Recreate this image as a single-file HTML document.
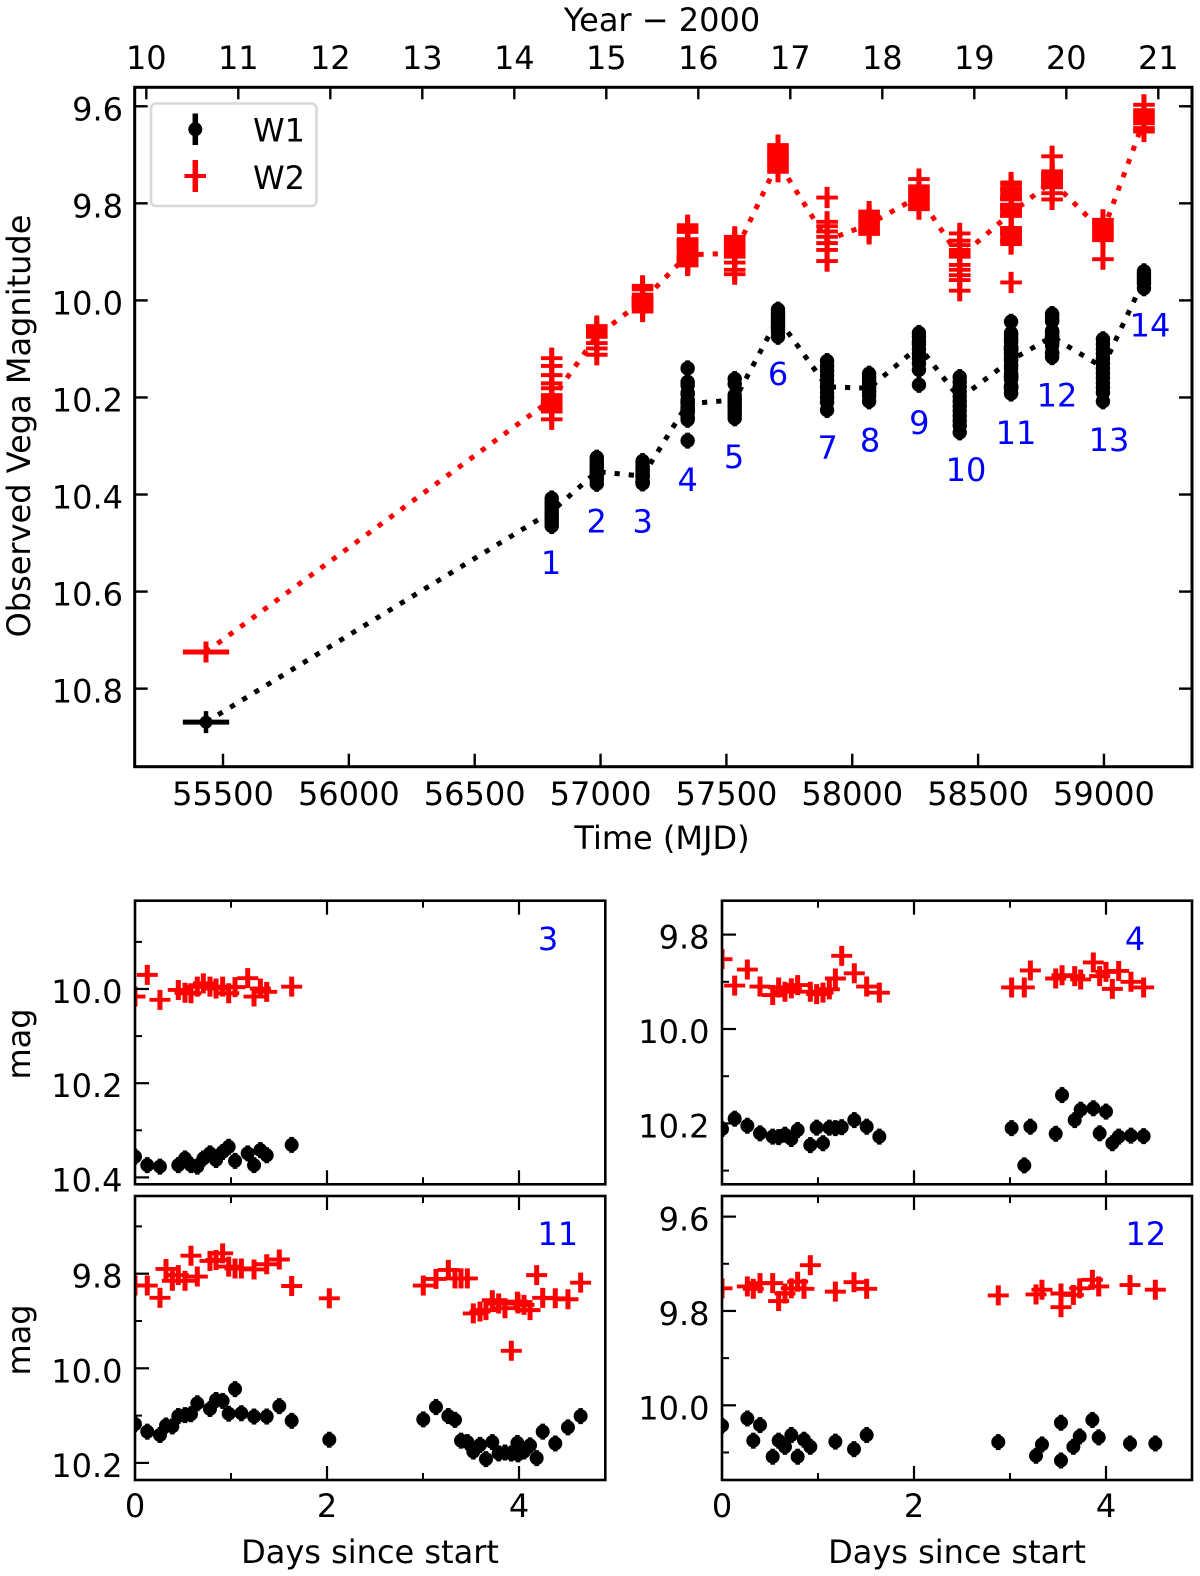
<!DOCTYPE html>
<html lang="en">
<head>
<meta charset="utf-8">
<title>WISE W1 and W2 light curve</title>
<style>
html,body{margin:0;padding:0;background:#fff;}
svg{display:block;}
text{font-family:"DejaVu Sans","Liberation Sans",sans-serif;font-size:32px;fill:#000;}
.blue{fill:#0000ff;}
.lab{font-size:32px;}
</style>
</head>
<body>
<svg id="chart" xmlns="http://www.w3.org/2000/svg" width="1200" height="1576" viewBox="0 0 1200 1576">
  <rect x="0" y="0" width="1200" height="1576" fill="#fff"/>
  <defs>
    <clipPath id="clip-p3"><rect x="135" y="900.7" width="470.3" height="283.6"/></clipPath>
    <clipPath id="clip-p4"><rect x="722" y="900.7" width="470" height="283.6"/></clipPath>
    <clipPath id="clip-p11"><rect x="135" y="1196" width="470.3" height="284"/></clipPath>
    <clipPath id="clip-p12"><rect x="722" y="1196" width="470" height="284"/></clipPath>
  </defs>
  <g id="main-plot"></g>
  <g id="panel-3"></g>
  <g id="panel-4"></g>
  <g id="panel-11"></g>
  <g id="panel-12"></g>

  <text class="lab" x="662" y="31" text-anchor="middle">Year − 2000</text>
  <text class="lab" x="662" y="849" text-anchor="middle">Time (MJD)</text>
  <text class="lab" transform="translate(30,426) rotate(-90)" text-anchor="middle">Observed Vega Magnitude</text>
  <text class="lab" transform="translate(30,1044) rotate(-90)" text-anchor="middle">mag</text>
  <text class="lab" transform="translate(30,1340) rotate(-90)" text-anchor="middle">mag</text>
  <text class="lab" x="370" y="1563" text-anchor="middle">Days since start</text>
  <text class="lab" x="957" y="1563" text-anchor="middle">Days since start</text>

  <g transform="translate(1,1)">
    <text class="blue" x="550" y="573" text-anchor="middle">1</text>
    <text class="blue" x="595.7" y="531.7" text-anchor="middle">2</text>
    <text class="blue" x="641.7" y="531.7" text-anchor="middle">3</text>
    <text class="blue" x="686.7" y="490" text-anchor="middle">4</text>
    <text class="blue" x="733" y="467" text-anchor="middle">5</text>
    <text class="blue" x="777" y="384" text-anchor="middle">6</text>
    <text class="blue" x="826.7" y="458" text-anchor="middle">7</text>
    <text class="blue" x="869" y="450.7" text-anchor="middle">8</text>
    <text class="blue" x="918.3" y="433" text-anchor="middle">9</text>
    <text class="blue" x="965" y="480" text-anchor="middle">10</text>
    <text class="blue" x="1015" y="443" text-anchor="middle">11</text>
    <text class="blue" x="1056" y="405.7" text-anchor="middle">12</text>
    <text class="blue" x="1108" y="450" text-anchor="middle">13</text>
    <text class="blue" x="1149" y="335.7" text-anchor="middle">14</text>
    <text class="blue" x="547" y="949" text-anchor="middle">3</text>
    <text class="blue" x="1134" y="949" text-anchor="middle">4</text>
    <text class="blue" x="556.7" y="1244" text-anchor="middle">11</text>
    <text class="blue" x="1144.7" y="1244" text-anchor="middle">12</text>
  </g>

  <g id="legend">
    <rect x="151" y="103.5" width="165.5" height="102.5" rx="5" ry="5" fill="#fff" stroke="#d9d9d9" stroke-width="2.6"/>
    <text x="253" y="141.7">W1</text>
    <text x="253" y="189">W2</text>
  </g>
</svg>

<script>
// ---------- Main plot data ----------
var earlyMjd = 55432.5;
var earlyW1 = 10.869;
var earlyW2 = 10.7245;
var earlyHalfWidthDays = 92;
var epochMjd = [56806, 56985, 57167, 57346, 57533, 57705, 57900, 58067, 58265, 58427, 58631, 58794, 58996, 59159];
var epochMeanW1 = [10.435, 10.353, 10.362, 10.213, 10.205, 10.037, 10.178, 10.181, 10.095, 10.202, 10.123, 10.075, 10.138, 9.957];
var epochMeanW2 = [10.204, 10.073, 10.001, 9.906, 9.903, 9.715, 9.876, 9.843, 9.786, 9.911, 9.82, 9.755, 9.858, 9.629];
var mainXTicks = [55500, 56000, 56500, 57000, 57500, 58000, 58500, 59000];
var mainYTicks = ['9.6', '9.8', '10.0', '10.2', '10.4', '10.6', '10.8'];
var yearTicks = [10, 11, 12, 13, 14, 15, 16, 17, 18, 19, 20, 21];

// ---------- Epoch panel data ----------
var p3Days = [0, .128, .26, .451, .521, .583, .649, .712, .781, .844, .913, .976, 1.042, 1.174, 1.24, 1.306, 1.372, 1.632];
var p3W1 = [10.356, 10.374, 10.377, 10.374, 10.36, 10.374, 10.377, 10.36, 10.349, 10.363, 10.346, 10.335, 10.365, 10.349, 10.374, 10.342, 10.353, 10.331];
var p3W2 = [10.016, 9.97, 10.023, 10.002, 10.008, 10.009, 9.995, 9.988, 9.995, 9.999, 9.995, 10.009, 9.996, 9.977, 10.016, 9.999, 10.006, 9.995];

var p4Days = [0, .132, .264, .396, .528, .59, .656, .722, .788, .92, .986, 1.052, 1.118, 1.181, 1.247, 1.378, 1.507, 1.639, 3.017, 3.149, 3.212, 3.476, 3.542, 3.674, 3.736, 3.868, 3.934, 4.0, 4.066, 4.132, 4.26, 4.392];
var p4W1 = [10.212, 10.19, 10.205, 10.221, 10.228, 10.229, 10.224, 10.233, 10.214, 10.246, 10.209, 10.242, 10.209, 10.21, 10.208, 10.193, 10.207, 10.228, 10.21, 10.289, 10.207, 10.222, 10.14, 10.193, 10.171, 10.168, 10.221, 10.175, 10.242, 10.228, 10.226, 10.227];
var p4W2 = [9.852, 9.908, 9.874, 9.91, 9.928, 9.912, 9.921, 9.914, 9.907, 9.921, 9.926, 9.923, 9.916, 9.893, 9.845, 9.882, 9.91, 9.923, 9.912, 9.912, 9.876, 9.893, 9.886, 9.888, 9.895, 9.859, 9.888, 9.879, 9.915, 9.877, 9.9, 9.912];

var p11Days = [0, .128, .26, .323, .389, .451, .521, .583, .649, .781, .844, .913, .976, 1.042, 1.108, 1.24, 1.372, 1.503, 1.632, 2.024, 3.003, 3.135, 3.264, 3.333, 3.396, 3.462, 3.524, 3.594, 3.656, 3.722, 3.788, 3.854, 3.92, 3.983, 3.99, 4.052, 4.115, 4.184, 4.247, 4.378, 4.51, 4.642];
var p11W1 = [10.118, 10.134, 10.141, 10.121, 10.123, 10.101, 10.099, 10.097, 10.074, 10.086, 10.067, 10.069, 10.096, 10.044, 10.095, 10.102, 10.102, 10.08, 10.111, 10.151, 10.108, 10.082, 10.101, 10.109, 10.153, 10.156, 10.176, 10.162, 10.192, 10.156, 10.18, 10.178, 10.18, 10.158, 10.182, 10.176, 10.163, 10.19, 10.134, 10.159, 10.125, 10.101];
var p11W2 = [9.825, 9.825, 9.851, 9.79, 9.815, 9.803, 9.815, 9.762, 9.806, 9.773, 9.771, 9.757, 9.785, 9.789, 9.789, 9.791, 9.78, 9.77, 9.826, 9.852, 9.825, 9.811, 9.792, 9.81, 9.81, 9.81, 9.884, 9.88, 9.877, 9.856, 9.863, 9.873, 9.963, 9.859, 9.863, 9.866, 9.877, 9.803, 9.851, 9.852, 9.854, 9.819];

var p12Days = [0, .264, .326, .396, .528, .59, .656, .722, .788, .854, .92, 1.181, 1.375, 1.507, 2.878, 3.271, 3.333, 3.531, 3.531, 3.66, 3.726, 3.858, 3.924, 4.25, 4.514];
var p12W1 = [10.043, 10.028, 10.075, 10.042, 10.109, 10.075, 10.088, 10.063, 10.109, 10.073, 10.088, 10.077, 10.093, 10.063, 10.078, 10.107, 10.083, 10.037, 10.117, 10.088, 10.066, 10.031, 10.068, 10.081, 10.081];
var p12W2 = [9.752, 9.748, 9.753, 9.741, 9.741, 9.779, 9.763, 9.752, 9.738, 9.753, 9.703, 9.759, 9.739, 9.753, 9.767, 9.765, 9.755, 9.763, 9.792, 9.766, 9.752, 9.734, 9.748, 9.745, 9.755];

// ---------- Per-epoch measurement columns (main plot) ----------
var epoch1W1 = [10.408, 10.415, 10.42, 10.425, 10.43, 10.435, 10.44, 10.445, 10.45, 10.455, 10.46, 10.465];
var epoch2W1 = [10.324, 10.33, 10.335, 10.34, 10.345, 10.35, 10.355, 10.36, 10.365, 10.37, 10.378];
var epoch5W1 = [10.162, 10.172, 10.195, 10.2, 10.205, 10.21, 10.215, 10.22, 10.225, 10.23, 10.235, 10.243];
var epoch6W1 = [10.019, 10.025, 10.03, 10.035, 10.04, 10.045, 10.05, 10.055, 10.06, 10.065, 10.075];
var epoch7W1 = [10.125, 10.135, 10.145, 10.155, 10.165, 10.175, 10.18, 10.19, 10.2, 10.21, 10.226];
var epoch8W1 = [10.151, 10.158, 10.165, 10.172, 10.178, 10.185, 10.19, 10.197, 10.208];
var epoch9W1 = [10.067, 10.075, 10.085, 10.09, 10.1, 10.11, 10.12, 10.13, 10.143, 10.174];
var epoch10W1 = [10.158, 10.168, 10.178, 10.188, 10.198, 10.208, 10.218, 10.228, 10.238, 10.248, 10.258, 10.272];
var epoch13W1 = [10.08, 10.09, 10.1, 10.11, 10.12, 10.13, 10.14, 10.15, 10.16, 10.17, 10.18, 10.19, 10.208];
var epoch14W1 = [9.94, 9.945, 9.95, 9.955, 9.96, 9.965, 9.975];

var epoch1W2 = [10.119, 10.135, 10.154, 10.171, 10.181, 10.195, 10.2, 10.205, 10.21, 10.213, 10.218, 10.222, 10.226, 10.229, 10.245];
var epoch2W2 = [10.053, 10.058, 10.064, 10.069, 10.075, 10.088, 10.099, 10.112];
var epoch5W2 = [9.869, 9.876, 9.882, 9.889, 9.896, 9.903, 9.91, 9.922, 9.937, 9.946];
var epoch6W2 = [9.68, 9.687, 9.694, 9.7, 9.707, 9.714, 9.721, 9.728, 9.735];
var epoch7W2 = [9.788, 9.838, 9.847, 9.858, 9.869, 9.882, 9.896, 9.919];
var epoch8W2 = [9.817, 9.824, 9.831, 9.838, 9.845, 9.852, 9.858, 9.863];
var epoch9W2 = [9.75, 9.765, 9.772, 9.779, 9.786, 9.793, 9.8, 9.807, 9.812];
var epoch10W2 = [9.862, 9.877, 9.886, 9.896, 9.903, 9.91, 9.927, 9.937, 9.948, 9.958, 9.98];
var epoch13W2 = [9.834, 9.841, 9.848, 9.855, 9.862, 9.869, 9.876, 9.915];
var epoch14W2 = [9.597, 9.608, 9.615, 9.621, 9.628, 9.635, 9.645, 9.652];

var columnsW1 = [epoch1W1, epoch2W1, p3W1, p4W1, epoch5W1, epoch6W1, epoch7W1, epoch8W1, epoch9W1, epoch10W1, p11W1, p12W1, epoch13W1, epoch14W1];
var columnsW2 = [epoch1W2, epoch2W2, p3W2, p4W2, epoch5W2, epoch6W2, epoch7W2, epoch8W2, epoch9W2, epoch10W2, p11W2, p12W2, epoch13W2, epoch14W2];

// ---------- Drawing ----------
var NS = 'http://www.w3.org/2000/svg';
var RED = '#ff0000';
var BLACK = '#000000';

function line(parent, x1, y1, x2, y2, color, w, name) {
  var el = document.createElementNS(NS, 'line');
  el.setAttribute('x1', x1);
  el.setAttribute('y1', y1);
  el.setAttribute('x2', x2);
  el.setAttribute('y2', y2);
  el.setAttribute('stroke', color);
  el.setAttribute('stroke-width', w);
  
  
  parent.appendChild(el);
  return el;
}

function label(parent, x, y, str, anchor, name) {
  var el = document.createElementNS(NS, 'text');
  el.setAttribute('x', x);
  el.setAttribute('y', y);
  el.setAttribute('text-anchor', anchor);
  
  
  el.textContent = str;
  parent.appendChild(el);
}

function dot(parent, x, y, r, halfBar, name) {
  var g = document.createElementNS(NS, 'g');
  
  
  line(g, x, y - halfBar, x, y + halfBar, BLACK, 4.5, 'w1-error-bar');
  var c = document.createElementNS(NS, 'circle');
  c.setAttribute('cx', x);
  c.setAttribute('cy', y);
  c.setAttribute('r', r);
  c.setAttribute('fill', BLACK);
  
  
  g.appendChild(c);
  parent.appendChild(g);
}

function plus(parent, x, y, halfW, halfH, name) {
  var g = document.createElementNS(NS, 'g');
  
  
  line(g, x - halfW, y, x + halfW, y, RED, 3.9, 'w2-marker-bar');
  line(g, x, y - halfH, x, y + halfH, RED, 5, 'w2-error-bar');
  parent.appendChild(g);
}

function frame(parent, x, y, w, h, sw, name) {
  var el = document.createElementNS(NS, 'rect');
  el.setAttribute('x', x);
  el.setAttribute('y', y);
  el.setAttribute('width', w);
  el.setAttribute('height', h);
  el.setAttribute('fill', 'none');
  el.setAttribute('stroke', BLACK);
  el.setAttribute('stroke-width', sw);
  
  
  parent.appendChild(el);
}

// ---- main axes ----
function xMain(mjd) { return 223 + (mjd - 55500) * 0.2517; }
function yMain(m) { return 300.4 + (m - 10) * 485.3; }
function xYear(yr) { return 146.3 + (yr - 10) * 92; }

var MAIN = { l: 134.7, r: 1192, t: 87.3, b: 766.7 };
var mainG = document.getElementById('main-plot');

function dotted(parent, xs, ys, color, name) {
  var el = document.createElementNS(NS, 'polyline');
  var pts = [];
  for (var i = 0; i < xs.length; i++) pts.push(xs[i].toFixed(1) + ',' + ys[i].toFixed(1));
  el.setAttribute('points', pts.join(' '));
  el.setAttribute('fill', 'none');
  el.setAttribute('stroke', color);
  el.setAttribute('stroke-width', 5);
  el.setAttribute('stroke-dasharray', '5.2 9');
  
  
  parent.appendChild(el);
}

var lineX = [xMain(earlyMjd)].concat(epochMjd.map(xMain));
dotted(mainG, lineX, [yMain(earlyW1)].concat(epochMeanW1.map(yMain)), BLACK, 'w1-trend-line');
dotted(mainG, lineX, [yMain(earlyW2)].concat(epochMeanW2.map(yMain)), RED, 'w2-trend-line');

columnsW1.forEach(function (col, e) {
  col.forEach(function (m) {
    dot(mainG, xMain(epochMjd[e]), yMain(m), 7.2, 8, 'w1-point');
  });
});
columnsW2.forEach(function (col, e) {
  col.forEach(function (m) {
    plus(mainG, xMain(epochMjd[e]), yMain(m), 10.8, 10.6, 'w2-point');
  });
});

// early epoch with wide span
line(mainG, xMain(earlyMjd - earlyHalfWidthDays), yMain(earlyW2), xMain(earlyMjd + earlyHalfWidthDays), yMain(earlyW2), RED, 5, 'w2-early-span');
line(mainG, xMain(earlyMjd), yMain(earlyW2) - 10.5, xMain(earlyMjd), yMain(earlyW2) + 10.5, RED, 5, 'w2-early-error-bar');
line(mainG, xMain(earlyMjd - earlyHalfWidthDays), yMain(earlyW1), xMain(earlyMjd + earlyHalfWidthDays), yMain(earlyW1), BLACK, 5, 'w1-early-span');
dot(mainG, xMain(earlyMjd), yMain(earlyW1), 6.5, 11, 'w1-early-point');

frame(mainG, MAIN.l, MAIN.t, MAIN.r - MAIN.l, MAIN.b - MAIN.t, 3, 'main-plot-frame');

mainXTicks.forEach(function (t) {
  line(mainG, xMain(t), MAIN.b, xMain(t), MAIN.b - 13, BLACK, 2.4, 'x-tick');
  label(mainG, xMain(t), 805, String(t), 'middle', 'x-tick-label');
});
yearTicks.forEach(function (t) {
  line(mainG, xYear(t), MAIN.t, xYear(t), MAIN.t + 12, BLACK, 2.4, 'year-tick');
  label(mainG, xYear(t), 69, String(t), 'middle', 'year-tick-label');
});
mainYTicks.forEach(function (t) {
  var y = yMain(parseFloat(t));
  line(mainG, MAIN.l, y, MAIN.l + 13, y, BLACK, 2.4, 'y-tick');
  line(mainG, MAIN.r, y, MAIN.r - 13, y, BLACK, 2.4, 'y-tick-right');
  label(mainG, 123, y + 14, t, 'end', 'y-tick-label');
});

// ---- legend markers ----
var legendG = document.getElementById('legend');
line(legendG, 195.3, 113.5, 195.3, 145, BLACK, 5.5, 'legend-w1-error-bar');
var legendDot = document.createElementNS(NS, 'circle');
legendDot.setAttribute('cx', 195.3);
legendDot.setAttribute('cy', 129.3);
legendDot.setAttribute('r', 7);
legendDot.setAttribute('fill', BLACK);


legendG.appendChild(legendDot);
line(legendG, 195.3, 160, 195.3, 192, RED, 5.5, 'legend-w2-error-bar');
line(legendG, 184.5, 176, 206, 176, RED, 4, 'legend-w2-marker');

// ---- epoch panels ----
function drawPanel(cfg) {
  var g = document.getElementById(cfg.id);
  var x = function (d) { return cfg.l + d * 96; };
  var y = function (m) { return cfg.y10 + (m - 10) * cfg.scale; };

  var data = document.createElementNS(NS, 'g');
  data.setAttribute('clip-path', 'url(#' + cfg.clip + ')');
  
  
  g.appendChild(data);

  cfg.days.forEach(function (d, i) {
    dot(data, x(d), y(cfg.w1[i]), 7, 8, 'w1-point');
  });
  cfg.days.forEach(function (d, i) {
    plus(data, x(d), y(cfg.w2[i]), 10.5, 10, 'w2-point');
  });

  frame(g, cfg.l, cfg.t, cfg.r - cfg.l, cfg.b - cfg.t, 2.6, 'panel-frame');

  cfg.xMajor.forEach(function (d) {
    line(g, x(d), cfg.b, x(d), cfg.b - 14, BLACK, 2.2, 'panel-x-tick');
    line(g, x(d), cfg.t, x(d), cfg.t + 14, BLACK, 2.2, 'panel-x-tick-top');
  });
  cfg.xMinor.forEach(function (d) {
    line(g, x(d), cfg.b, x(d), cfg.b - 7, BLACK, 2, 'panel-x-minor-tick');
    line(g, x(d), cfg.t, x(d), cfg.t + 7, BLACK, 2, 'panel-x-minor-tick-top');
  });
  cfg.yMajor.forEach(function (t) {
    var py = y(parseFloat(t));
    line(g, cfg.l, py, cfg.l + 14, py, BLACK, 2.2, 'panel-y-tick');
    label(g, cfg.l - 12.5, py + 14, t, 'end', 'panel-y-tick-label');
  });
  cfg.yMinor.forEach(function (t) {
    var py = y(t);
    line(g, cfg.l, py, cfg.l + 7, py, BLACK, 2, 'panel-y-minor-tick');
  });
  if (cfg.xLabels) {
    ['0', '2', '4'].forEach(function (t) {
      label(g, x(parseFloat(t)), 1517, t, 'middle', 'panel-x-tick-label');
    });
  }
}

var panelXMajor = [2, 4];
var panelXMinor = [1, 3];

drawPanel({ id: 'panel-3', clip: 'clip-p3', l: 135, r: 605.3, t: 900.7, b: 1184.3, y10: 989, scale: 471,
  days: p3Days, w1: p3W1, w2: p3W2, xMajor: panelXMajor, xMinor: panelXMinor,
  yMajor: ['10.0', '10.2', '10.4'], yMinor: [9.9, 10.1, 10.3], xLabels: false });
drawPanel({ id: 'panel-4', clip: 'clip-p4', l: 722, r: 1192, t: 900.7, b: 1184.3, y10: 1029, scale: 472,
  days: p4Days, w1: p4W1, w2: p4W2, xMajor: panelXMajor, xMinor: panelXMinor,
  yMajor: ['9.8', '10.0', '10.2'], yMinor: [9.9, 10.1, 10.3], xLabels: false });
drawPanel({ id: 'panel-11', clip: 'clip-p11', l: 135, r: 605.3, t: 1196, b: 1480, y10: 1368.3, scale: 473,
  days: p11Days, w1: p11W1, w2: p11W2, xMajor: panelXMajor, xMinor: panelXMinor,
  yMajor: ['9.8', '10.0', '10.2'], yMinor: [9.7, 9.9, 10.1], xLabels: true });
drawPanel({ id: 'panel-12', clip: 'clip-p12', l: 722, r: 1192, t: 1196, b: 1480, y10: 1405.3, scale: 471.7,
  days: p12Days, w1: p12W1, w2: p12W2, xMajor: panelXMajor, xMinor: panelXMinor,
  yMajor: ['9.6', '9.8', '10.0'], yMinor: [9.7, 9.9, 10.1], xLabels: true });
</script>
</body>
</html>
